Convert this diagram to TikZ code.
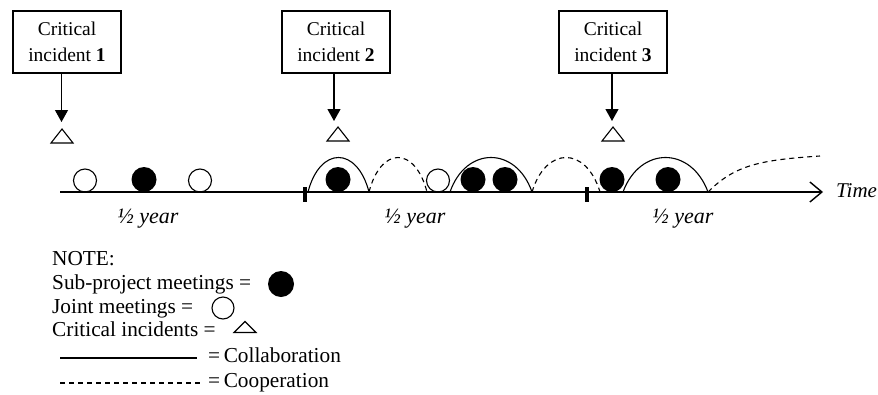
\documentclass[tikz,border=0pt]{standalone}
\usepackage{fontspec}
\setmainfont{Liberation Serif}
\usetikzlibrary{arrows.meta}
\begin{document}
\begin{tikzpicture}[x=1pt,y=-1pt,
  box/.style={draw, line width=1.1pt, minimum width=108pt, minimum height=62pt, inner sep=0pt, align=center, font=\fontsize{19.5}{26}\selectfont},
  pointer/.style={line width=1.2pt, -{Triangle[length=12pt,width=13pt]}},
  fullmeet/.style={circle, fill=black, minimum size=25pt, inner sep=0pt},
  jointmeet/.style={circle, draw, line width=1.1pt, minimum size=23pt, inner sep=0pt},
  collab/.style={line width=1.1pt},
  coop/.style={line width=1.1pt, dash pattern=on 5pt off 4pt},
  lbl/.style={anchor=base west, inner sep=0pt, font=\fontsize{21.3}{24}\selectfont},
  half/.style={anchor=base, inner sep=0pt, font=\fontsize{22}{24}\selectfont\itshape},
  incident/.pic={\draw[line width=1.1pt] (-11,7) -- (0,-7) -- (11,7) -- cycle;},
  smallincident/.pic={\draw[line width=1.1pt] (-11,5.5) -- (0,-5.5) -- (11,5.5) -- cycle;},
]
\useasboundingbox (0,0) rectangle (878,394);

% boxes
\node[box] (b1) at (67,42) {Critical\\incident \textbf{1}};
\node[box] (b2) at (336,42) {Critical\\incident \textbf{2}};
\node[box] (b3) at (613,42) {Critical\\incident \textbf{3}};

% triangles and arrows
\coordinate (a1) at (61.5,122);
\coordinate (a2) at (334,121);
\coordinate (a3) at (612,121);
\pic at (62,136) {incident};
\pic at (338,134) {incident};
\pic at (613,134) {incident};
\draw[pointer] (a1 |- b1.south) -- (a1);
\draw[pointer] (a2 |- b2.south) -- (a2);
\draw[pointer] (a3 |- b3.south) -- (a3);

% axis
\coordinate (ax0) at (60,192);
\coordinate (ax1) at (823,192);
\draw[line width=1.4pt, -{Straight Barb[length=12pt,width=20pt,line width=1.4pt]}] (ax0) -- (ax1);
\node[anchor=base west, inner sep=0pt, font=\fontsize{21}{24}\selectfont\itshape] (time) at (836,197) {Time};

% ticks
\draw[line width=4pt] (305,187) -- (305,202);
\draw[line width=4pt] (587,187) -- (587,202);

% arches
\draw[collab] (308,192) .. controls (320,146) and (357,146) .. (369,192);
\draw[coop] (369,192) .. controls (381,146) and (415,146) .. (427,192);
\draw[collab] (450,192) .. controls (466,146) and (516,146) .. (532,192);
\draw[coop] (532,192) .. controls (546,146) and (586,146) .. (600,192);
\draw[collab] (623,192) .. controls (640,146) and (691,146) .. (708,192);
\draw[coop] (708,192) .. controls (735,165) and (760,160) .. (820,156);

% meetings
\node[jointmeet] (j1) at (85,180.5) {};
\node[fullmeet] (f1) at (144,179.5) {};
\node[jointmeet] (j2) at (200,180.5) {};
\node[fullmeet] (f2) at (338,179.5) {};
\node[jointmeet] (j3) at (438,180.5) {};
\node[fullmeet] (f3) at (473,179.5) {};
\node[fullmeet] (f4) at (505,179.5) {};
\node[fullmeet] (f5) at (612,179.5) {};
\node[fullmeet] (f6) at (668,179.5) {};

% half-year labels
\node[half] (h1) at (148,223) {½ year};
\node[half] (h2) at (415,223) {½ year};
\node[half] (h3) at (683,223) {½ year};

% legend
\node[lbl] (n0) at (52,265) {NOTE:};
\node[lbl] (n1) at (52,289) {Sub-project meetings =};
\node[fullmeet, minimum size=26pt] (lf) at (281,284) {};
\node[lbl] (n2) at (52,313) {Joint meetings =};
\node[jointmeet, minimum size=22pt] (lj) at (223,308) {};
\node[lbl] (n3) at (52,336) {Critical incidents =};
\pic at (245,327) {smallincident};
\coordinate (c0) at (60,358);
\coordinate (c1) at (197,358);
\draw[collab] (c0) -- (c1);
\node[lbl] (n4) at (208,362) {=\,Collaboration};
\coordinate (d0) at (60,383);
\coordinate (d1) at (200,383);
\draw[coop] (d0) -- (d1);
\node[lbl] (n5) at (208,387) {=\,Cooperation};
\end{tikzpicture}
\end{document}
